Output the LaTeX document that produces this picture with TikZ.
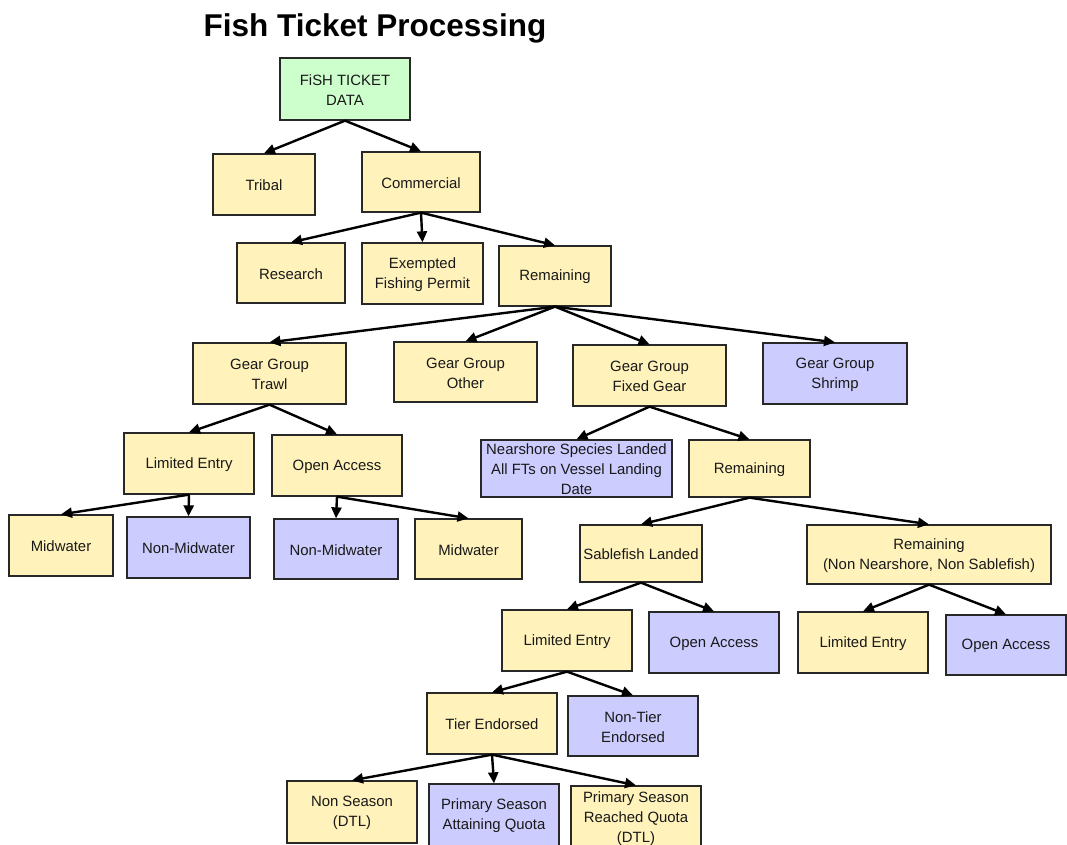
\documentclass[tikz,border=0pt]{standalone}
\usepackage{fontspec}
\setmainfont{Liberation Sans}
\usetikzlibrary{arrows.meta}
\definecolor{boxyellow}{RGB}{255,242,187}
\definecolor{boxblue}{RGB}{204,204,255}
\definecolor{boxgreen}{RGB}{204,255,204}
\definecolor{boxline}{RGB}{40,40,40}
\tikzset{
  boxst/.style={draw=boxline, line width=1.3pt, inner sep=0pt, rectangle},
  txtst/.style={font=\fontsize{14.9}{20}\selectfont, align=center, inner sep=0pt, text=black!90},
  arr/.style={line width=2.4pt, -{Triangle[length=11pt,width=10pt]}}
}
\newcommand\mybox[7]{%
  \node[boxst, fill=#6, minimum width={#4-#2}, minimum height={#5-#3}] (#1) at ({(#2+#4)/2},{(#3+#5)/2}) {};
  \node[txtst] (#1-t) at ([yshift=-1pt]#1.center) {#7};
}
\begin{document}
\begin{tikzpicture}[x=1pt,y=-1pt]
\fill[white] (0,0) rectangle (1067,845);
\useasboundingbox (0,0) rectangle (1067,845);
\node[font=\fontsize{31.5}{36}\selectfont\bfseries, anchor=base] (title) at (375,37) {Fish Ticket Processing};
\mybox{green}{280}{58}{410}{120}{boxgreen}{FiSH TICKET\\DATA}
\mybox{tribal}{213}{154}{315}{215}{boxyellow}{Tribal}
\mybox{comm}{362}{152}{480}{212}{boxyellow}{Commercial}
\mybox{research}{237}{243}{345}{303}{boxyellow}{Research}
\mybox{efp}{362}{243}{483}{304}{boxyellow}{Exempted\\Fishing Permit}
\mybox{remA}{499}{246}{611}{306}{boxyellow}{Remaining}
\mybox{trawl}{193}{343}{346}{404}{boxyellow}{Gear Group\\Trawl}
\mybox{other}{394}{342}{537}{402}{boxyellow}{Gear Group\\Other}
\mybox{fixed}{573}{345}{726}{406}{boxyellow}{Gear Group\\Fixed Gear}
\mybox{shrimp}{763}{343}{907}{404}{boxblue}{Gear Group\\Shrimp}
\mybox{leA}{124}{433}{254}{494}{boxyellow}{Limited Entry}
\mybox{oaA}{272}{435}{402}{496}{boxyellow}{Open Access}
\mybox{midA}{9}{515}{113}{576}{boxyellow}{Midwater}
\mybox{nonmidA}{127}{517}{250}{578}{boxblue}{Non-Midwater}
\mybox{nonmidB}{274}{519}{398}{579}{boxblue}{Non-Midwater}
\mybox{midB}{415}{519}{522}{579}{boxyellow}{Midwater}
\mybox{nearshore}{481}{440}{672}{497}{boxblue}{Nearshore Species Landed\\All FTs on Vessel Landing\\Date}
\mybox{remB}{689}{440}{810}{497}{boxyellow}{Remaining}
\mybox{sable}{580}{525}{702}{582}{boxyellow}{Sablefish Landed}
\mybox{remC}{807}{525}{1051}{584}{boxyellow}{Remaining\\(Non Nearshore, Non Sablefish)}
\mybox{leB}{502}{610}{632}{671}{boxyellow}{Limited Entry}
\mybox{oaB}{649}{612}{779}{673}{boxblue}{Open Access}
\mybox{leC}{798}{612}{928}{673}{boxyellow}{Limited Entry}
\mybox{oaC}{946}{615}{1066}{675}{boxblue}{Open Access}
\mybox{tier}{427}{693}{557}{754}{boxyellow}{Tier Endorsed}
\mybox{nontier}{568}{696}{698}{756}{boxblue}{Non-Tier\\Endorsed}
\mybox{nonseason}{287}{781}{417}{843}{boxyellow}{Non Season\\(DTL)}
\mybox{primatt}{429}{784}{559}{846}{boxblue}{Primary Season\\Attaining Quota}
\mybox{primreach}{571}{786}{701}{850}{boxyellow}{Primary Season\\Reached Quota\\(DTL)}
% connectors
\draw[arr] (green.south) -- (tribal.north);
\draw[arr] (green.south) -- (comm.north);
\draw[arr] (comm.south) -- (research.north);
\draw[arr] (comm.south) -- (efp.north);
\draw[arr] (comm.south) -- (remA.north);
\draw[arr] (remA.south) -- (trawl.north);
\draw[arr] (remA.south) -- (other.north);
\draw[arr] (remA.south) -- (fixed.north);
\draw[arr] (remA.south) -- (shrimp.north);
\draw[arr] (trawl.south) -- (leA.north);
\draw[arr] (trawl.south) -- (oaA.north);
\draw[arr] (leA.south) -- (midA.north);
\draw[arr] (leA.south) -- (nonmidA.north);
\draw[arr] (oaA.south) -- (nonmidB.north);
\draw[arr] (oaA.south) -- (midB.north);
\draw[arr] (fixed.south) -- (nearshore.north);
\draw[arr] (fixed.south) -- (remB.north);
\draw[arr] (remB.south) -- (sable.north);
\draw[arr] (remB.south) -- (remC.north);
\draw[arr] (sable.south) -- (leB.north);
\draw[arr] (sable.south) -- (oaB.north);
\draw[arr] (remC.south) -- (leC.north);
\draw[arr] (remC.south) -- (oaC.north);
\draw[arr] (leB.south) -- (tier.north);
\draw[arr] (leB.south) -- (nontier.north);
\draw[arr] (tier.south) -- (nonseason.north);
\draw[arr] (tier.south) -- (primatt.north);
\draw[arr] (tier.south) -- (primreach.north);
\end{tikzpicture}
\end{document}
